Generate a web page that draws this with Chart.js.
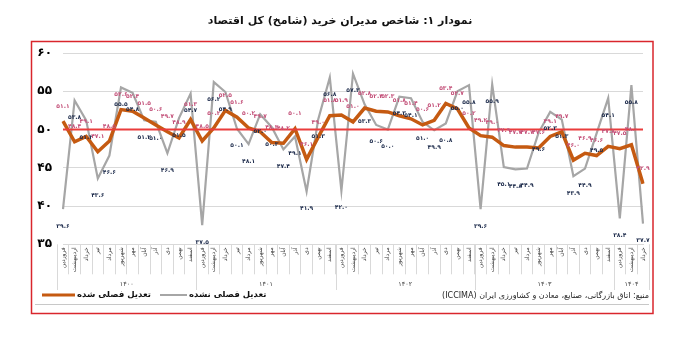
<!DOCTYPE html>
<html><head><meta charset="utf-8">
<script src="https://cdn.jsdelivr.net/npm/chart.js@4.4.1/dist/chart.umd.min.js"></script>
<style>html,body{margin:0;padding:0;background:#fff}#wrap{width:680px;height:339px;position:relative}</style>
</head><body><div id="wrap"><canvas id="c" width="680" height="339"></canvas></div>
<script>
const chartTitle = 'نمودار ۱: شاخص مدیران خرید (شامخ) کل اقتصاد';
const sourceText = 'منبع: اتاق بازرگانی، صنایع، معادن و کشاورزی ایران (ICCIMA)';
const monthNames = ['فروردین','اردیبهشت','خرداد','تیر','مرداد','شهریور','مهر','آبان','آذر','دی','بهمن','اسفند'];
const yearLabels = ['۱۴۰۰','۱۴۰۱','۱۴۰۲','۱۴۰۳','۱۴۰۴'];
const monthsPerYear = [12,12,12,12,3];
const seriesNames = ['تعدیل فصلی شده','تعدیل فصلی نشده'];
const adjusted = [51.1,48.4,49.1,47.1,48.5,52.6,52.4,51.5,50.6,49.7,48.9,51.3,48.5,50.2,52.5,51.6,50.2,49.7,48.3,48.2,50.1,46.1,49.0,51.8,51.9,51.0,52.8,52.4,52.3,51.8,51.4,50.6,51.2,53.4,52.7,50.2,49.2,49.0,47.9,47.7,47.7,47.6,49.1,49.7,46.0,46.9,46.6,47.8,47.5,48.0,42.9];
const unadjusted = [39.6,53.8,51.2,43.6,46.6,55.5,54.8,51.2,51.0,46.9,51.5,54.7,37.5,56.2,54.9,50.1,48.1,52.0,50.3,47.4,49.1,41.9,51.3,56.8,42.0,57.3,53.3,50.6,50.0,54.3,54.1,51.0,49.9,50.8,55.0,55.8,39.6,55.9,45.1,44.8,44.9,49.6,52.3,51.3,43.9,44.9,49.5,54.1,38.4,55.8,37.7];
const thresholdValue = 50;
const yMin = 35, yMax = 60, yStep = 5;

const categories = [];
monthsPerYear.forEach((n) => { for (let m = 0; m < n; m++) categories.push(monthNames[m]); });

const FA = '۰۱۲۳۴۵۶۷۸۹';
const toFa = s => String(s).replace(/\d/g, d => FA[d]);
const fmt = v => toFa(v.toFixed(1));
const FONT = "'DejaVu Sans', sans-serif";

const decor = {
  id: 'decor',
  beforeDraw(chart) {
    const c = chart.ctx;
    c.save(); c.fillStyle = '#fff'; c.fillRect(0, 0, chart.width, chart.height); c.restore();
  },
  afterDatasetsDraw(chart) {
    const c = chart.ctx, xs = chart.scales.x, ys = chart.scales.y;
    c.save();
    const yT = ys.getPixelForValue(thresholdValue);
    c.strokeStyle = '#ea3c3c'; c.lineWidth = 2;
    c.beginPath(); c.moveTo(xs.getPixelForValue(0), yT); c.lineTo(xs.getPixelForValue(categories.length - 1), yT); c.stroke();
    c.font = 'bold 6px ' + FONT; c.textAlign = 'center'; c.textBaseline = 'middle';
    const m0 = chart.getDatasetMeta(0).data, m1 = chart.getDatasetMeta(1).data;
    c.fillStyle = '#1f2d4d';
    m1.forEach((p, i) => c.fillText(fmt(unadjusted[i]), p.x, p.y + 17));
    c.fillStyle = '#c4527a';
    m0.forEach((p, i) => c.fillText(fmt(adjusted[i]), p.x, p.y - 15));
    c.restore();
  },
  afterDraw(chart) {
    const c = chart.ctx, xs = chart.scales.x, ca = chart.chartArea;
    c.save();
    c.direction = 'rtl';
    c.fillStyle = '#111'; c.font = 'bold 11px ' + FONT; c.textAlign = 'center'; c.textBaseline = 'middle';
    c.fillText(chartTitle, 340, 21);
    const half = (xs.getPixelForValue(1) - xs.getPixelForValue(0)) / 2;
    c.strokeStyle = '#d9d9d9'; c.lineWidth = 1;
    let idx = 0;
    const bounds = [];
    monthsPerYear.forEach((n, k) => {
      const x0 = xs.getPixelForValue(idx) - half, x1 = xs.getPixelForValue(idx + n - 1) + half;
      bounds.push(x0); if (k === monthsPerYear.length - 1) bounds.push(x1);
      c.fillStyle = '#404040'; c.font = '6.5px ' + FONT; c.textAlign = 'center';
      c.fillText(yearLabels[k], (x0 + x1) / 2, 284);
      idx += n;
    });
    bounds.forEach(x => { const xx = Math.round(x) + 0.5; c.beginPath(); c.moveTo(xx, ca.bottom); c.lineTo(xx, 290); c.stroke(); });
    const ly = 295;
    c.lineWidth = 3; c.strokeStyle = '#c55a11';
    c.beginPath(); c.moveTo(42, ly); c.lineTo(75, ly); c.stroke();
    c.lineWidth = 2; c.strokeStyle = '#a6a6a6';
    c.beginPath(); c.moveTo(160, ly); c.lineTo(187, ly); c.stroke();
    c.fillStyle = '#111'; c.font = 'bold 8.5px ' + FONT; c.textAlign = 'left';
    c.fillText(seriesNames[0], 77, ly);
    c.fillText(seriesNames[1], 189, ly);
    c.font = '8px ' + FONT; c.textAlign = 'right'; c.fillStyle = '#262626';
    c.fillText(sourceText, 649, ly + 1);
    c.strokeStyle = '#c8c8c8'; c.lineWidth = 1;
    c.beginPath(); c.moveTo(35, 304.5); c.lineTo(649, 304.5); c.stroke();
    c.strokeStyle = '#d9262c'; c.lineWidth = 1.5;
    c.strokeRect(31.5, 41.5, 621.5, 272);
    c.restore();
  }
};

new Chart(document.getElementById('c'), {
  type: 'line',
  data: {
    labels: categories,
    datasets: [
      { label: seriesNames[0], data: adjusted, borderColor: '#c55a11', borderWidth: 3.5, pointRadius: 0, tension: 0, fill: false },
      { label: seriesNames[1], data: unadjusted, borderColor: '#a6a6a6', borderWidth: 2.2, pointRadius: 0, tension: 0, fill: false }
    ]
  },
  options: {
    responsive: false, animation: false, devicePixelRatio: 1,
    layout: { padding: { left: 0, right: 37, top: 53, bottom: 44.7 } },
    plugins: { legend: { display: false }, title: { display: false }, tooltip: { enabled: false } },
    scales: {
      x: {
        grid: { offset: true, drawOnChartArea: false, color: '#d9d9d9', tickLength: 30 },
        border: { color: '#d9d9d9' },
        ticks: { autoSkip: false, maxRotation: 90, minRotation: 90, padding: -27, font: { size: 6, family: FONT }, color: '#404040' },
        afterFit: s => { s.height = 50; }
      },
      y: {
        min: yMin, max: yMax,
        ticks: { stepSize: yStep, callback: v => toFa(v), font: { size: 12, weight: 'bold', family: FONT }, color: '#000', padding: 11 },
        grid: { color: '#d9d9d9', drawTicks: false },
        border: { display: false },
        afterFit: s => { s.width = 63; }
      }
    }
  },
  plugins: [decor]
});
</script>
</body></html>
